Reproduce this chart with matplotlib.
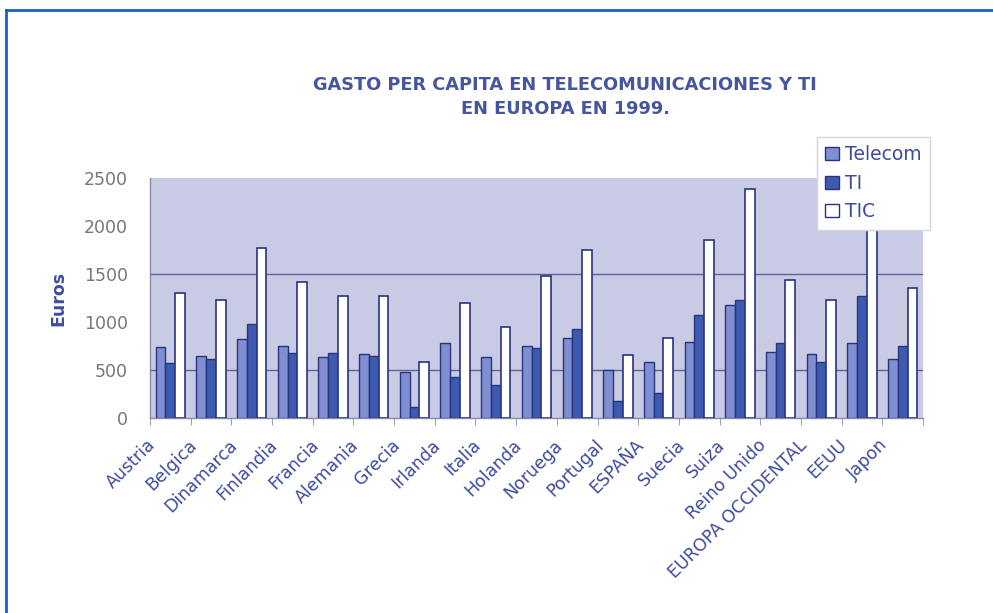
import numpy as np
import matplotlib
matplotlib.use("Agg")
import matplotlib.pyplot as plt
from matplotlib.lines import Line2D
from matplotlib.patches import Patch
import matplotlib.transforms as mtransforms

plt.rcParams['font.family'] = ['DejaVu Sans']

countries = ["Austria", "Belgica", "Dinamarca", "Finlandia", "Francia", "Alemania",
             "Grecia", "Irlanda", "Italia", "Holanda", "Noruega", "Portugal",
             "ESPAÑA", "Suecia", "Suiza", "Reino Unido", "EUROPA OCCIDENTAL",
             "EEUU", "Japon"]
telecom = [744, 646, 827, 750, 636, 671, 480, 778, 636, 750, 837, 501,
           588, 795, 1172, 688, 671, 778, 612]
ti = [578, 612, 982, 674, 674, 646, 117, 428, 342, 733, 923, 180,
      256, 1068, 1227, 778, 588, 1276, 750]
tic = [1304, 1227, 1771, 1414, 1276, 1276, 584, 1193, 947, 1476, 1746, 661,
       837, 1850, 2383, 1442, 1227, 2050, 1356]
series_names = ["Telecom", "TI", "TIC"]
y_ticks = [0, 500, 1000, 1500, 2000, 2500]

title_text = "GASTO PER CAPITA EN TELECOMUNICACIONES Y TI\nEN EUROPA EN 1999."
y_label = "Euros"

W, H = 993, 613
fig = plt.figure(figsize=(W / 100, H / 100), dpi=100)
fig.patch.set_facecolor("white")

ax = fig.add_axes([150 / W, 1 - 418 / H, 773 / W, 240 / H])
ax.set_facecolor("#c9cae4")

text_blue = "#3d4c9e"
edge_blue = "#27357f"
c_telecom = "#7f8fd2"
c_ti = "#3e5ab0"
c_tic = "white"

x = np.arange(len(countries))
bw = 0.24
ax.bar(x - bw, telecom, bw, color=c_telecom, edgecolor=edge_blue, linewidth=1.0, zorder=3)
ax.bar(x, ti, bw, color=c_ti, edgecolor=edge_blue, linewidth=1.0, zorder=3)
ax.bar(x + bw, tic, bw, color=c_tic, edgecolor=edge_blue, linewidth=1.2, zorder=3)

ax.set_xlim(-0.5, len(countries) - 0.5)
ax.set_ylim(0, 2500)

# horizontal reference lines
for g in (500, 1500):
    ax.axhline(g, color="#5d6298", linewidth=1.0, zorder=1)

ax.set_yticks(y_ticks)
ax.set_yticklabels([str(v) for v in y_ticks], fontsize=12.5, color="#777777")
ax.set_yticks([500, 1500, 2500], minor=True)
ax.tick_params(axis="y", which="major", length=0, pad=16)
ax.tick_params(axis="y", which="minor", length=5, color="#8a8aa8", direction="out")

ax.set_xticks(x)
ax.set_xticks(np.arange(-0.5, len(countries), 1.0), minor=True)
ax.tick_params(axis="x", which="major", length=0, pad=13)
ax.tick_params(axis="x", which="minor", length=5, color="#8a8aa8", direction="out")
offset = mtransforms.ScaledTranslation(-11 / 100, 0, fig.dpi_scale_trans)
ax.set_xticklabels(countries, rotation=45, ha="right", va="top",
                   fontsize=12.5, color=text_blue)
for lbl in ax.get_xticklabels():
    lbl.set_transform(lbl.get_transform() + offset)

for side in ("top", "right"):
    ax.spines[side].set_visible(False)
for side in ("left", "bottom"):
    ax.spines[side].set_color("#8a8aa8")
    ax.spines[side].set_linewidth(1.0)

ax.set_ylabel(y_label, fontsize=12.5, fontweight="bold", color=text_blue, labelpad=12)

fig.text(565 / W, 1 - 97 / H, title_text, ha="center", va="center",
         fontsize=12.8, fontweight="bold", color="#46559f", linespacing=1.45)

handles = [Patch(facecolor=c_telecom, edgecolor=edge_blue),
           Patch(facecolor=c_ti, edgecolor=edge_blue),
           Patch(facecolor=c_tic, edgecolor=edge_blue)]
leg = fig.legend(handles, series_names, loc="upper left",
                 bbox_to_anchor=(817 / W, 1 - 137 / H), bbox_transform=fig.transFigure,
                 fontsize=13.5, frameon=True, fancybox=False, borderaxespad=0,
                 handlelength=0.7, handleheight=0.7, handletextpad=0.35,
                 labelspacing=0.5, borderpad=0.45)
leg.get_frame().set_edgecolor("#d4d4dc")
leg.get_frame().set_linewidth(1.0)
leg.get_frame().set_facecolor("white")
leg.get_frame().set_alpha(1.0)
for t in leg.get_texts():
    t.set_color(text_blue)

# page frame along the top and left edges
fig.add_artist(Line2D([6 / W, 1.0], [1 - 10 / H, 1 - 10 / H], color="#1c5fc2",
                      linewidth=2.0, transform=fig.transFigure))
fig.add_artist(Line2D([6 / W, 6 / W], [0.0, 1 - 10 / H], color="#1c5fc2",
                      linewidth=2.0, transform=fig.transFigure))

fig.savefig("out.png", dpi=100)
